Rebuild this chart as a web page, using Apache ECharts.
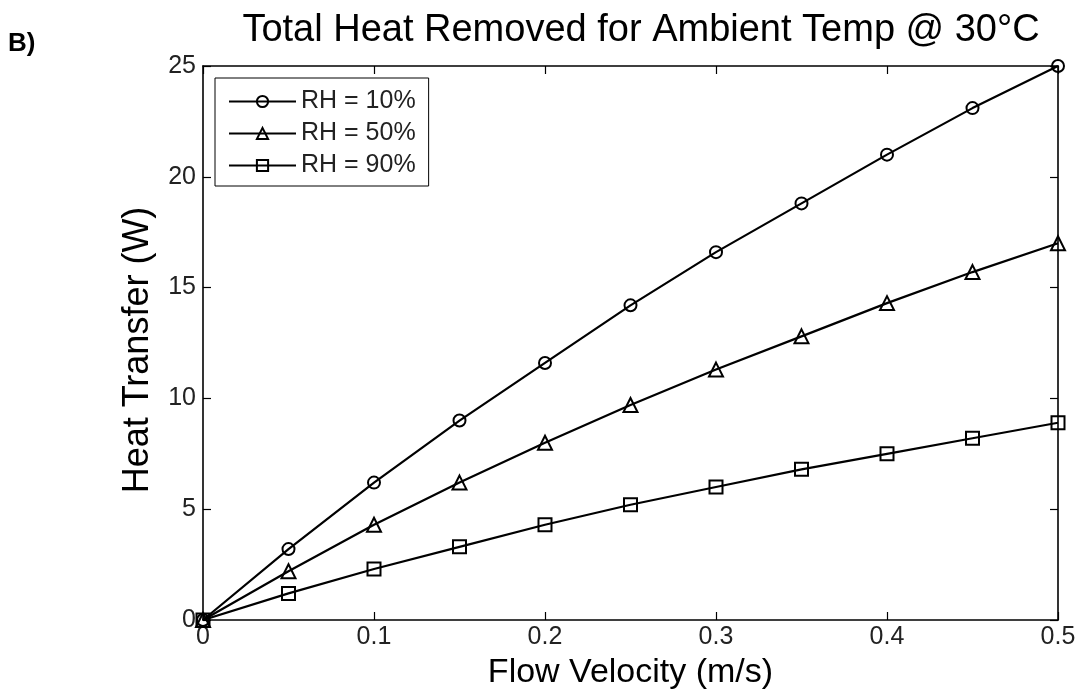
<!DOCTYPE html>
<html>
<head>
<meta charset="utf-8">
<script src="https://cdn.jsdelivr.net/npm/echarts@6/dist/echarts.min.js"></script>
<style>
html,body{margin:0;padding:0;background:#fff;}
#chart{width:1082px;height:698px;}
</style>
</head>
<body>
<div id="chart"></div>
<script>
const velocity = [0, 0.05, 0.1, 0.15, 0.2, 0.25, 0.3, 0.35, 0.4, 0.45, 0.5];
const rh10 = [0, 3.2, 6.2, 9.0, 11.6, 14.2, 16.6, 18.8, 21.0, 23.1, 25.0];
const rh50 = [0, 2.2, 4.3, 6.2, 8.0, 9.7, 11.3, 12.8, 14.3, 15.7, 17.0];
const rh90 = [0, 1.2, 2.3, 3.3, 4.3, 5.2, 6.0, 6.8, 7.5, 8.2, 8.9];
const seriesNames = ['RH = 10%', 'RH = 50%', 'RH = 90%'];
const xTicks = [0, 0.1, 0.2, 0.3, 0.4, 0.5];
const yTicks = [0, 5, 10, 15, 20, 25];

const font = 'Liberation Sans, Arial, sans-serif';
const chart = echarts.init(document.getElementById('chart'));

function pairs(ys) { return velocity.map((v, i) => [v, ys[i]]); }
function mk(name, ys, symbol, size) {
  return {
    name: name, type: 'line', data: pairs(ys),
    symbol: symbol, symbolSize: size, showAllSymbol: true,
    lineStyle: { color: '#000', width: 2.2 },
    itemStyle: { color: 'rgba(255,255,255,0)', borderColor: '#000', borderWidth: 2 },
    emphasis: { disabled: true },
    animation: false,
    xAxisIndex: 0, yAxisIndex: 0
  };
}

const axisCommon = {
  axisLine: { show: true, onZero: false, lineStyle: { color: '#000', width: 1.6 } },
  axisTick: { show: true, inside: true, length: 8, lineStyle: { color: '#000', width: 1.2 } },
  splitLine: { show: false }
};

chart.setOption({
  backgroundColor: '#fff',
  animation: false,
  title: [
    { text: 'Total Heat Removed for Ambient Temp @ 30°C', left: 636, top: 7, textAlign: 'center',
      textStyle: { fontFamily: font, fontSize: 38, fontWeight: 'normal', color: '#000' } },
    { text: 'B)', left: 3, top: 26,
      textStyle: { fontFamily: font, fontSize: 26, fontWeight: 'bold', color: '#000' } }
  ],
  grid: { left: 203, right: 24, top: 66, bottom: 78, containLabel: false },
  legend: {
    data: seriesNames, orient: 'vertical', left: 215, top: 78,
    backgroundColor: '#fff', borderColor: '#000', borderWidth: 1,
    padding: [11, 13, 8, 13], itemGap: 7, itemWidth: 67, itemHeight: 14,
    textStyle: { fontFamily: font, fontSize: 25, lineHeight: 25, color: '#222' }
  },
  xAxis: [
    Object.assign({}, axisCommon, {
      type: 'value', min: 0, max: 0.5, interval: 0.1, position: 'bottom',
      name: 'Flow Velocity (m/s)', nameLocation: 'middle', nameGap: 36,
      nameTextStyle: { fontFamily: font, fontSize: 34, color: '#000' },
      axisLabel: { fontFamily: font, fontSize: 25, color: '#222', margin: 5,
        formatter: v => xTicks.indexOf(Math.round(v * 10) / 10) >= 0 ? String(Math.round(v * 10) / 10) : '' }
    }),
    Object.assign({}, axisCommon, {
      type: 'value', min: 0, max: 0.5, interval: 0.1, position: 'top',
      axisLabel: { show: false }
    })
  ],
  yAxis: [
    Object.assign({}, axisCommon, {
      type: 'value', min: 0, max: 25, interval: 5, position: 'left',
      name: 'Heat Transfer (W)', nameLocation: 'middle', nameGap: 47,
      nameTextStyle: { fontFamily: font, fontSize: 36, color: '#000', padding: [0, 14, 0, 0] },
      axisLabel: { fontFamily: font, fontSize: 25, color: '#222', margin: 7,
        formatter: v => yTicks.indexOf(v) >= 0 ? String(v) : '' }
    }),
    Object.assign({}, axisCommon, {
      type: 'value', min: 0, max: 25, interval: 5, position: 'right',
      axisLabel: { show: false }
    })
  ],
  series: [
    mk(seriesNames[0], rh10, 'circle', 12),
    mk(seriesNames[1], rh50, 'triangle', 14),
    mk(seriesNames[2], rh90, 'rect', 13)
  ]
});
</script>
</body>
</html>
